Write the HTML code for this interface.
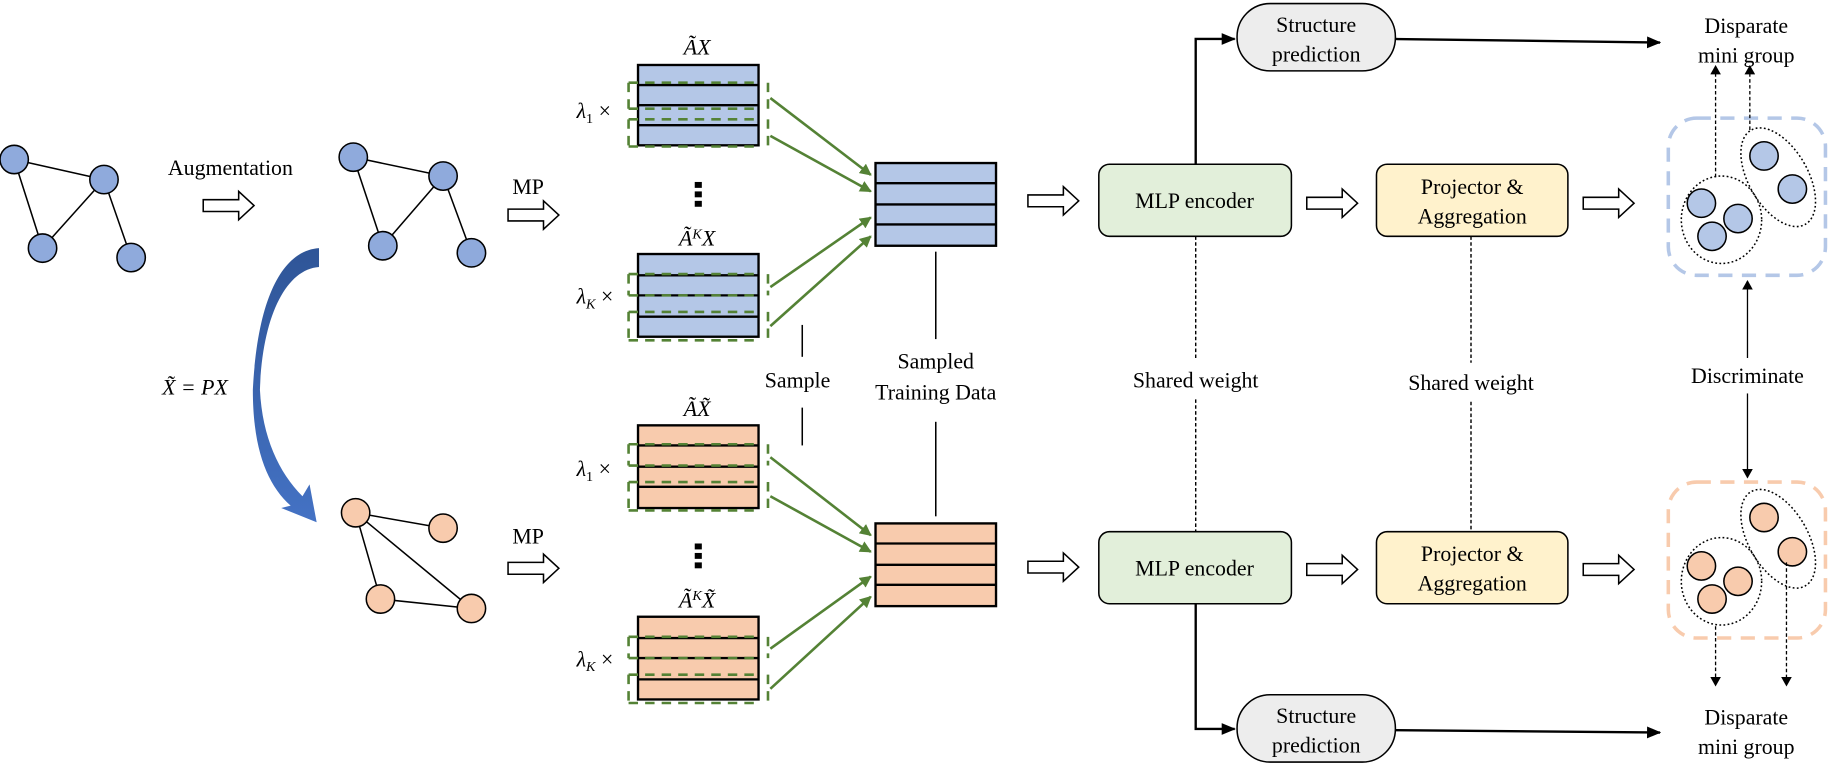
<!DOCTYPE html>
<html><head><meta charset="utf-8"><style>
html,body{margin:0;padding:0;background:#fff;}
svg{display:block;}
text{font-family:"Liberation Serif","Times New Roman",serif;font-size:18.5px;fill:#000;}
.m{font-style:italic;}
</style></head><body>
<svg width="1842" height="772" viewBox="0 0 1559 653.4" preserveAspectRatio="none" xmlns="http://www.w3.org/2000/svg">
<defs>
<marker id="ga" markerWidth="10" markerHeight="10" refX="9" refY="5" orient="auto" markerUnits="userSpaceOnUse"><path d="M0,0 L10,5 L0,10 z" fill="#548235"/></marker>
<marker id="ba" markerWidth="12" markerHeight="10" refX="11" refY="5" orient="auto" markerUnits="userSpaceOnUse"><path d="M0,0 L12,5 L0,10 z" fill="#000"/></marker>
<marker id="sa" markerWidth="8" markerHeight="9" refX="7" refY="4.5" orient="auto" markerUnits="userSpaceOnUse"><path d="M0,0 L8,4.5 L0,9 z" fill="#000"/></marker>
<path id="ha" d="M0,-5 H30 V-12 L43,0 L30,12 V5 H0 Z" fill="#fff" stroke="#000" stroke-width="1.3"/>
<linearGradient id="cg" x1="0" y1="0" x2="0" y2="1"><stop offset="0" stop-color="#2f5597"/><stop offset="1" stop-color="#4472c4"/></linearGradient>
</defs>

<g stroke="#000" stroke-width="1.3">
<line x1="12" y1="135" x2="88" y2="152"/><line x1="12" y1="135" x2="36" y2="210"/><line x1="36" y1="210" x2="88" y2="152"/><line x1="88" y1="152" x2="111" y2="218"/>
</g>
<g stroke="#000" stroke-width="1.3" fill="#8faadc">
<circle cx="12" cy="135" r="12"/><circle cx="88" cy="152" r="12"/><circle cx="36" cy="210" r="12"/><circle cx="111" cy="218" r="12"/>
</g>
<text x="195" y="148" text-anchor="middle">Augmentation</text>
<use href="#ha" x="172" y="174"/>

<g stroke="#000" stroke-width="1.3">
<line x1="299" y1="133" x2="375" y2="149"/><line x1="299" y1="133" x2="324" y2="208"/><line x1="324" y1="208" x2="375" y2="149"/><line x1="375" y1="149" x2="399" y2="214"/>
</g>
<g stroke="#000" stroke-width="1.3" fill="#8faadc">
<circle cx="299" cy="133" r="12"/><circle cx="375" cy="149" r="12"/><circle cx="324" cy="208" r="12"/><circle cx="399" cy="214" r="12"/>
</g>

<path d="M270,210 C240,212 218,250 214,330 C214,380 226,410 246,428 L238,430 L268,442 L262,410 L256,420 C236,400 222,370 220,330 C222,268 242,228 270,226 Z" fill="url(#cg)"/>
<text x="165" y="334" class="m" text-anchor="middle">X̃ = PX</text>

<g stroke="#000" stroke-width="1.3">
<line x1="301" y1="434" x2="375" y2="447"/><line x1="301" y1="434" x2="322" y2="507"/><line x1="301" y1="434" x2="399" y2="515"/><line x1="322" y1="507" x2="399" y2="515"/>
</g>
<g stroke="#000" stroke-width="1.3" fill="#f8cbad">
<circle cx="301" cy="434" r="12"/><circle cx="375" cy="447" r="12"/><circle cx="322" cy="507" r="12"/><circle cx="399" cy="515" r="12"/>
</g>

<text x="447" y="164" text-anchor="middle">MP</text>
<use href="#ha" x="430" y="182"/>
<text x="447" y="460" text-anchor="middle">MP</text>
<use href="#ha" x="430" y="481"/>

<g stroke="#000" stroke-width="2" fill="#b4c7e7">
<rect x="540" y="55" width="102" height="68"/>
<line x1="540" y1="72" x2="642" y2="72"/><line x1="540" y1="89" x2="642" y2="89"/><line x1="540" y1="106" x2="642" y2="106"/>
<rect x="540" y="215" width="102" height="70"/>
<line x1="540" y1="233" x2="642" y2="233"/><line x1="540" y1="250" x2="642" y2="250"/><line x1="540" y1="268" x2="642" y2="268"/>
<rect x="741" y="138" width="102" height="70"/>
<line x1="741" y1="155" x2="843" y2="155"/><line x1="741" y1="173" x2="843" y2="173"/><line x1="741" y1="190" x2="843" y2="190"/>
</g>
<g stroke="#000" stroke-width="2" fill="#f8cbad">
<rect x="540" y="360" width="102" height="70"/>
<line x1="540" y1="377" x2="642" y2="377"/><line x1="540" y1="395" x2="642" y2="395"/><line x1="540" y1="412" x2="642" y2="412"/>
<rect x="540" y="522" width="102" height="70"/>
<line x1="540" y1="540" x2="642" y2="540"/><line x1="540" y1="557" x2="642" y2="557"/><line x1="540" y1="575" x2="642" y2="575"/>
<rect x="741" y="443" width="102" height="70"/>
<line x1="741" y1="460" x2="843" y2="460"/><line x1="741" y1="478" x2="843" y2="478"/><line x1="741" y1="495" x2="843" y2="495"/>
</g>

<g fill="none" stroke="#548235" stroke-width="2.2" stroke-dasharray="8,6">
<path d="M532,70 H642 M532,92 H642 M532,70 V92 M650,70 V92"/>
<path d="M532,101 H642 M532,124 H642 M532,101 V124 M650,101 V124"/>
<path d="M532,232 H642 M532,250 H642 M532,232 V250 M650,232 V250"/>
<path d="M532,264 H642 M532,288 H642 M532,264 V288 M650,264 V288"/>
<path d="M532,376 H642 M532,394 H642 M532,376 V394 M650,376 V394"/>
<path d="M532,408 H642 M532,432 H642 M532,408 V432 M650,408 V432"/>
<path d="M532,539 H642 M532,557 H642 M532,539 V557 M650,539 V557"/>
<path d="M532,571 H642 M532,595 H642 M532,571 V595 M650,571 V595"/>
</g>
<g stroke="#548235" stroke-width="2.2" marker-end="url(#ga)">
<line x1="652" y1="83" x2="737" y2="148"/>
<line x1="652" y1="115" x2="737" y2="162"/>
<line x1="652" y1="243" x2="737" y2="184"/>
<line x1="652" y1="276" x2="737" y2="200"/>
<line x1="652" y1="387" x2="737" y2="453"/>
<line x1="652" y1="420" x2="737" y2="467"/>
<line x1="652" y1="549" x2="737" y2="488"/>
<line x1="652" y1="583" x2="737" y2="505"/>
</g>

<text x="590" y="46" class="m" text-anchor="middle">ÃX</text>
<text x="590" y="208" class="m" text-anchor="middle">Ã<tspan dy="-6" font-size="12">K</tspan><tspan dy="6">X</tspan></text>
<text x="590" y="352" class="m" text-anchor="middle">ÃX̃</text>
<text x="590" y="514" class="m" text-anchor="middle">Ã<tspan dy="-6" font-size="12">K</tspan><tspan dy="6">X̃</tspan></text>
<text x="488" y="100" class="m">λ<tspan font-size="12" dy="4" font-style="normal">1</tspan><tspan dy="-4" font-style="normal"> ×</tspan></text>
<text x="488" y="257" class="m">λ<tspan font-size="12" dy="4">K</tspan><tspan dy="-4" font-style="normal"> ×</tspan></text>
<text x="488" y="403" class="m">λ<tspan font-size="12" dy="4" font-style="normal">1</tspan><tspan dy="-4" font-style="normal"> ×</tspan></text>
<text x="488" y="564" class="m">λ<tspan font-size="12" dy="4">K</tspan><tspan dy="-4" font-style="normal"> ×</tspan></text>
<g fill="#000">
<rect x="588" y="154" width="6" height="5"/><rect x="588" y="162" width="6" height="5"/><rect x="588" y="170" width="6" height="5"/>
<rect x="588" y="460" width="6" height="5"/><rect x="588" y="468" width="6" height="5"/><rect x="588" y="476" width="6" height="5"/>
</g>

<g stroke="#000" stroke-width="1.3">
<line x1="679" y1="275" x2="679" y2="302"/><line x1="679" y1="345" x2="679" y2="377"/>
<line x1="792" y1="213" x2="792" y2="287"/><line x1="792" y1="357" x2="792" y2="437"/>
</g>
<text x="675" y="328" text-anchor="middle">Sample</text>
<text x="792" y="312" text-anchor="middle">Sampled</text>
<text x="792" y="338" text-anchor="middle">Training Data</text>

<use href="#ha" x="870" y="170"/>
<use href="#ha" x="870" y="480"/>

<rect x="930" y="139" width="163" height="61" rx="9" fill="#e2efda" stroke="#000" stroke-width="1.3"/>
<text x="1011" y="176" text-anchor="middle">MLP encoder</text>
<rect x="930" y="450" width="163" height="61" rx="9" fill="#e2efda" stroke="#000" stroke-width="1.3"/>
<text x="1011" y="487" text-anchor="middle">MLP encoder</text>

<use href="#ha" x="1106" y="172"/>
<use href="#ha" x="1106" y="482"/>

<rect x="1165" y="139" width="162" height="61" rx="9" fill="#fff2cc" stroke="#000" stroke-width="1.3"/>
<text x="1246" y="164" text-anchor="middle">Projector &amp;</text>
<text x="1246" y="189" text-anchor="middle">Aggregation</text>
<rect x="1165" y="450" width="162" height="61" rx="9" fill="#fff2cc" stroke="#000" stroke-width="1.3"/>
<text x="1246" y="475" text-anchor="middle">Projector &amp;</text>
<text x="1246" y="500" text-anchor="middle">Aggregation</text>

<use href="#ha" x="1340" y="172"/>
<use href="#ha" x="1340" y="482"/>

<g stroke="#000" stroke-width="1.2" stroke-dasharray="3,2">
<line x1="1012" y1="200" x2="1012" y2="305"/><line x1="1012" y1="338" x2="1012" y2="450"/>
<line x1="1245" y1="200" x2="1245" y2="307"/><line x1="1245" y1="340" x2="1245" y2="450"/>
</g>
<text x="1012" y="328" text-anchor="middle">Shared weight</text>
<text x="1245" y="330" text-anchor="middle">Shared weight</text>

<rect x="1047" y="3" width="134" height="57" rx="28" fill="#ededed" stroke="#000" stroke-width="1.3"/>
<text x="1114" y="27" text-anchor="middle">Structure</text>
<text x="1114" y="52" text-anchor="middle">prediction</text>
<rect x="1047" y="588" width="134" height="57" rx="28" fill="#ededed" stroke="#000" stroke-width="1.3"/>
<text x="1114" y="612" text-anchor="middle">Structure</text>
<text x="1114" y="637" text-anchor="middle">prediction</text>
<g stroke="#000" stroke-width="2" fill="none" marker-end="url(#ba)">
<path d="M1012,139 V33 H1045"/>
<path d="M1012,511 V617 H1045"/>
<line x1="1181" y1="33" x2="1405" y2="36"/>
<line x1="1181" y1="618" x2="1405" y2="620"/>
</g>
<text x="1478" y="28" text-anchor="middle">Disparate</text>
<text x="1478" y="53" text-anchor="middle">mini group</text>
<text x="1478" y="613" text-anchor="middle">Disparate</text>
<text x="1478" y="638" text-anchor="middle">mini group</text>

<rect x="1412" y="100" width="133" height="133" rx="24" fill="none" stroke="#b4c7e7" stroke-width="3" stroke-dasharray="12,8"/>
<g fill="none" stroke="#000" stroke-width="1.3" stroke-dasharray="1.5,2">
<ellipse cx="1457" cy="186" rx="34" ry="37"/>
<ellipse cx="1505" cy="150" rx="25" ry="46" transform="rotate(-30 1505 150)"/>
</g>
<g stroke="#000" stroke-width="1.3" fill="#b4c7e7">
<circle cx="1440" cy="172" r="12"/><circle cx="1471" cy="185" r="12"/><circle cx="1449" cy="200" r="12"/>
<circle cx="1493" cy="132" r="12"/><circle cx="1517" cy="160" r="12"/>
</g>
<rect x="1412" y="408" width="133" height="132" rx="24" fill="none" stroke="#f8cbad" stroke-width="3" stroke-dasharray="12,8"/>
<g fill="none" stroke="#000" stroke-width="1.3" stroke-dasharray="1.5,2">
<ellipse cx="1457" cy="492" rx="34" ry="37"/>
<ellipse cx="1505" cy="456" rx="25" ry="46" transform="rotate(-30 1505 456)"/>
</g>
<g stroke="#000" stroke-width="1.3" fill="#f8cbad">
<circle cx="1440" cy="479" r="12"/><circle cx="1471" cy="492" r="12"/><circle cx="1449" cy="507" r="12"/>
<circle cx="1493" cy="438" r="12"/><circle cx="1517" cy="467" r="12"/>
</g>

<g stroke="#000" stroke-width="1.1" stroke-dasharray="3,2" marker-end="url(#sa)">
<line x1="1452" y1="150" x2="1452" y2="56"/>
<line x1="1481" y1="110" x2="1481" y2="56"/>
<line x1="1452" y1="530" x2="1452" y2="580"/>
<line x1="1512" y1="476" x2="1512" y2="580"/>
</g>
<g stroke="#000" stroke-width="1.1" marker-end="url(#sa)">
<line x1="1479" y1="303" x2="1479" y2="238"/>
<line x1="1479" y1="333" x2="1479" y2="404"/>
</g>
<text x="1479" y="324" text-anchor="middle">Discriminate</text>
</svg>
</body></html>
